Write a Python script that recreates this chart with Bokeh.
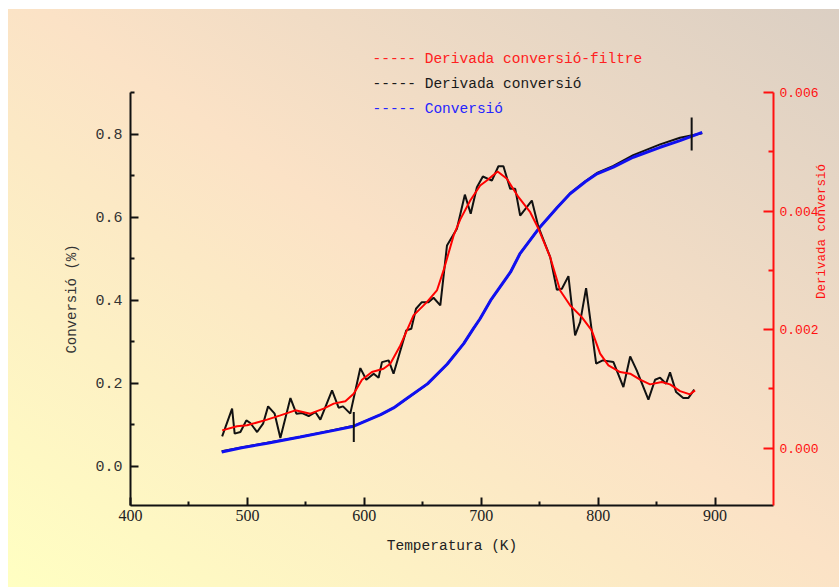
from math import pi

from bokeh.embed import file_html
from bokeh.models import (FixedTicker, Label, LinearAxis, PrintfTickFormatter, Range1d,
                          Title)
from bokeh.plotting import figure
from bokeh.resources import INLINE

# Temperature ticks (K)
x_ticks = [400, 500, 600, 700, 800, 900]
x_minor = [450, 550, 650, 750, 850]
# Conversion axis ticks
conv_ticks = [0.0, 0.2, 0.4, 0.6, 0.8]
conv_minor = [0.1, 0.3, 0.5, 0.7, 0.9]
# Derivative axis ticks
der_ticks = [0.000, 0.002, 0.004, 0.006]
der_minor = [0.001, 0.003, 0.005]

# Conversion (fitted curve)
conv_T = [478, 495, 517, 545, 574, 591, 614, 625, 636, 654, 671, 685, 693, 699,
          708, 725, 733, 750, 765, 776, 789, 799, 813, 830, 853, 870, 889]
conv = [0.034, 0.044, 0.055, 0.070, 0.086, 0.096, 0.124, 0.140, 0.162, 0.198,
        0.246, 0.295, 0.330, 0.355, 0.399, 0.467, 0.511, 0.575, 0.623, 0.656,
        0.685, 0.704, 0.720, 0.744, 0.768, 0.784, 0.804]
# Conversion (measured)
conv_raw = [0.036, 0.045, 0.056, 0.070, 0.087, 0.097, 0.124, 0.140, 0.162, 0.198,
            0.246, 0.295, 0.330, 0.355, 0.399, 0.467, 0.511, 0.575, 0.623, 0.657,
            0.686, 0.706, 0.723, 0.749, 0.775, 0.791, 0.802]

# Conversion derivative (raw)
der_T = [478.4, 486.9, 489.1, 494.0, 499.1, 502.5, 508.3, 513.4, 517.7, 523.3,
         528.2, 536.8, 541.9, 546.8, 552.4, 558.1, 562.4, 572.4, 578.0, 581.8,
         588.0, 596.6, 601.7, 608.0, 612.2, 615.1, 620.8, 625.0, 635.9, 640.2,
         644.2, 649.2, 654.9, 659.2, 665.0, 670.7, 679.2, 686.0, 691.0, 696.3,
         701.4, 709.1, 714.7, 719.0, 724.8, 729.1, 733.3, 743.3, 749.0, 759.0,
         764.7, 769.0, 774.6, 780.3, 784.6, 789.7, 798.3, 803.9, 813.1, 821.6,
         827.4, 833.0, 843.0, 848.7, 853.0, 858.1, 861.5, 866.7, 872.8, 877.1,
         882.2]
der = [0.000197, 0.000664, 0.000243, 0.000270, 0.000467, 0.000422, 0.000270,
       0.000411, 0.000703, 0.000580, 0.000169, 0.000843, 0.000580, 0.000590,
       0.000540, 0.000607, 0.000479, 0.000973, 0.000681, 0.000703, 0.000580,
       0.001349, 0.001153, 0.001255, 0.001187, 0.001450, 0.001479, 0.001255,
       0.001985, 0.002013, 0.002351, 0.002462, 0.002462, 0.002536, 0.002406,
       0.003418, 0.003700, 0.004276, 0.003953, 0.004400, 0.004582, 0.004514,
       0.004755, 0.004755, 0.004374, 0.004374, 0.003924, 0.004177, 0.003727,
       0.003221, 0.002671, 0.002688, 0.002901, 0.001900, 0.002125, 0.002698,
       0.001423, 0.001479, 0.001450, 0.001029, 0.001546, 0.001310, 0.000816,
       0.001153, 0.001187, 0.001086, 0.001277, 0.000944, 0.000843, 0.000843,
       0.000985]

# Conversion derivative (filtered)
filt_T = [478.4, 491.1, 499.7, 516.8, 528.2, 541.0, 553.8, 565.2, 573.8, 583.8,
          590.9, 598.0, 606.5, 616.4, 622.2, 630.8, 642.1, 653.5, 662.1, 667.8,
          676.4, 682.0, 690.6, 699.1, 704.8, 714.0, 722.0, 731.9, 741.9, 749.0,
          759.0, 767.5, 776.1, 786.0, 794.5, 801.7, 808.8, 818.8, 827.4, 835.9,
          844.4, 854.4, 861.5, 870.1, 878.6, 882.9]
filt = [0.000298, 0.000366, 0.000383, 0.000479, 0.000551, 0.000636, 0.000580,
        0.000664, 0.000749, 0.000788, 0.000917, 0.001153, 0.001282, 0.001339,
        0.001423, 0.001732, 0.002238, 0.002462, 0.002659, 0.002997, 0.003587,
        0.003855, 0.004177, 0.004430, 0.004514, 0.004666, 0.004543, 0.004233,
        0.003980, 0.003700, 0.003221, 0.002659, 0.002406, 0.002209, 0.001985,
        0.001592, 0.001395, 0.001282, 0.001255, 0.001153, 0.001074, 0.001113,
        0.001074, 0.000961, 0.000906, 0.000973]

# Range markers on the conversion curve
mark_T = [591, 880]
mark_lo = [0.058, 0.760]
mark_hi = [0.130, 0.840]

legend_texts = ["----- Derivada conversió-filtre", "----- Derivada conversió", "----- Conversió"]
legend_colors = ["#ff2020", "#1a1a1a", "#2525ff"]

MONO = "Liberation Mono"
RED = "#ff1010"

p = figure(width=839, height=587, output_backend="svg", toolbar_location=None,
           title_location=None,
           x_range=Range1d(400, 950), y_range=Range1d(-0.095, 0.9),
           x_axis_location=None, y_axis_location=None,
           min_border_left=130, min_border_right=66, min_border_top=92, min_border_bottom=82)
p.extra_y_ranges = {"deriv": Range1d(-0.00097, 0.006)}
p.background_fill_color = None
p.border_fill_color = None
p.outline_line_color = None
p.grid.visible = False
p.styles = {
    "background": "linear-gradient(to top right, #ffffc2 0%, #fbe2c6 52%, #dbcfc3 100%) "
                  "8px 9px / calc(100% - 8px) calc(100% - 9px) no-repeat, #ffffff"
}


def style_axis(ax, color, major_in, minor_in):
    ax.axis_line_color = color
    ax.axis_line_width = 2
    ax.major_tick_line_color = color
    ax.minor_tick_line_color = color
    ax.major_tick_line_width = 2
    ax.minor_tick_line_width = 2
    ax.major_tick_in = major_in
    ax.major_tick_out = 0
    ax.minor_tick_in = minor_in
    ax.minor_tick_out = 0
    ax.axis_label_text_font = MONO
    ax.axis_label_text_font_style = "normal"


xaxis = LinearAxis(ticker=FixedTicker(ticks=x_ticks, minor_ticks=x_minor),
                   axis_label="Temperatura (K)")
style_axis(xaxis, "#111111", 8, 4)
xaxis.major_label_text_font = "Liberation Sans Narrow"
xaxis.major_label_text_font_size = "16px"
xaxis.major_label_text_color = "#222222"
xaxis.major_label_standoff = 4
xaxis.axis_label_text_font_size = "14.5px"
xaxis.axis_label_text_color = "#222222"
xaxis.axis_label_standoff = 14
p.add_layout(xaxis, "below")

yaxis = LinearAxis(ticker=FixedTicker(ticks=conv_ticks, minor_ticks=conv_minor),
                   formatter=PrintfTickFormatter(format="%.1f"),
                   axis_label="Conversió (%)")
style_axis(yaxis, "#111111", 8, 4)
yaxis.major_label_text_font = MONO
yaxis.major_label_text_font_size = "15px"
yaxis.major_label_text_color = "#333333"
yaxis.major_label_standoff = 8
yaxis.axis_label_text_font_size = "14px"
yaxis.axis_label_text_color = "#333333"
yaxis.axis_label_standoff = 12
p.add_layout(yaxis, "left")

raxis = LinearAxis(y_range_name="deriv",
                   ticker=FixedTicker(ticks=der_ticks, minor_ticks=der_minor),
                   formatter=PrintfTickFormatter(format="%.3f"),
                   axis_label="Derivada conversió")
style_axis(raxis, RED, 10, 5)
raxis.major_label_text_font = MONO
raxis.major_label_text_font_size = "13px"
raxis.major_label_text_color = RED
raxis.major_label_standoff = 6
raxis.axis_label_text_font_size = "12.5px"
raxis.axis_label_text_color = RED
raxis.axis_label_standoff = 0
if "axis_label_orientation" in raxis.properties():
    raxis.axis_label_orientation = pi / 2
p.add_layout(raxis, "right")

# Curves
p.line(conv_T, conv_raw, line_color="#111111", line_width=2)
p.line(conv_T, conv, line_color="#1010f0", line_width=3)
p.line(der_T, der, y_range_name="deriv", line_color="#111111", line_width=2)
p.line(filt_T, filt, y_range_name="deriv", line_color="#ff0000", line_width=2)
p.segment(x0=mark_T, y0=mark_lo, x1=mark_T, y1=mark_hi, line_color="#111111", line_width=2)

# Key: the two upper lines sit above the frame (nearest first), the last one inside it
for txt, col, gap in [(legend_texts[1], legend_colors[1], 2), (legend_texts[0], legend_colors[0], 11)]:
    p.add_layout(Title(text=txt, text_color=col, text_font=MONO, text_font_size="14.5px",
                       text_font_style="normal", align="left", offset=242, standoff=gap),
                 "above")
p.add_layout(Label(x=242, y=397, x_units="screen", y_units="screen",
                   text=legend_texts[2], text_color=legend_colors[2], text_font=MONO,
                   text_font_size="14.5px", text_baseline="middle", text_align="left"))

open("out.html", "w").write(file_html(p, INLINE))
